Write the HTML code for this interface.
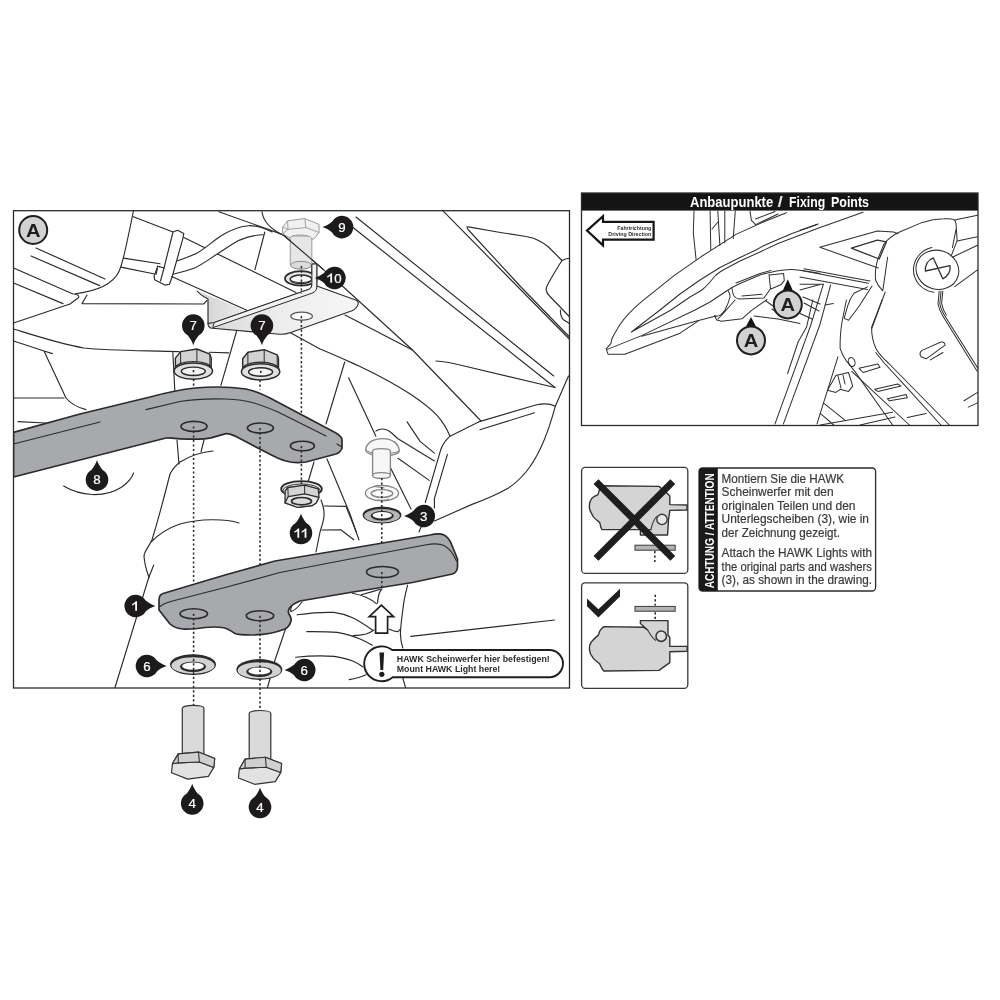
<!DOCTYPE html>
<html>
<head>
<meta charset="utf-8">
<title>HAWK mounting instructions</title>
<style>
html,body{margin:0;padding:0;background:#fff;}
body{width:1000px;height:1000px;overflow:hidden;font-family:"Liberation Sans",sans-serif;}
svg{display:block;position:absolute;left:0;top:0;will-change:transform;}
text{font-family:"Liberation Sans",sans-serif;}
.ln{fill:none;stroke:#2b2b2b;stroke-width:1.15;stroke-linecap:round;stroke-linejoin:round;}
.gh{fill:#f3f3f3;stroke:#808080;stroke-width:1.15;stroke-linejoin:round;}
.dot{fill:none;stroke:#2b2b2b;stroke-width:1.55;stroke-dasharray:2.2 2.3;}
.bar{fill:#a8a9ac;stroke:#2b2b2b;stroke-width:1.7;stroke-linejoin:round;}
.hole{fill:#a8a9ac;stroke:#2b2b2b;stroke-width:1.6;}
.num{fill:#fff;font-size:13.3px;text-anchor:middle;stroke:#fff;stroke-width:0.22px;}
.bub{fill:#1d1a1b;}
</style>
</head>
<body>
<svg width="1000" height="1000" viewBox="0 0 1000 1000">
<defs>
<clipPath id="cpMain"><rect x="13.5" y="210.7" width="556" height="477.3"/></clipPath>
<clipPath id="cpRight"><rect x="581.5" y="210.6" width="396.5" height="215"/></clipPath>
</defs>
<rect x="0" y="0" width="1000" height="1000" fill="#fff"/>

<!-- ================= MAIN FRAME ================= -->
<g clip-path="url(#cpMain)">
<g id="bg" class="ln">
<!-- top-left -->
<path d="M36,248 L105,279 M31,256 L99.6,285.6 M13.6,268 L73,294 M13.6,283 L63,303.6"/>
<path d="M133.4,211 C130,228 126,247 123.5,257.2 C122,264 120.5,268 119,271.6 C114,282 100,291 74,294 C78,294.5 80,296 78,298 L70,304 L13.6,323"/>
<path d="M87,295 L82,303.6 L203.6,304 L207,300.4"/>
<path d="M13.6,329 C30,334 60,344 84,348 C110,351 150,350.5 179,351.6 M172.8,351.6 L174.8,390.6"/>
<path d="M13.6,341 L44,351 L52.4,353.6 M44,351 L66,398 C70,403 78,407.5 86,409.6"/>
<path d="M13.6,398 L64,398 M18,421.6 L46,423"/>
<!-- hose + cable tie -->
<path d="M133.4,216.7 L173,232 M183.8,237.4 L296,292.5"/>
<path d="M123.5,258.1 L160,263.8 M120.8,267.1 L155.9,274.3"/>
<path d="M177.5,260.8 C185,258 190,256.5 196.4,253.6 C206,248 213,241 221.6,235.6 C230,230 240,226.5 248.6,225.7 C257,225.5 265,228.5 272,232 L263,234.7 C256,235 248,236.5 239.6,240.1 C232,244 226,248.5 218,253.6 C210,258.5 204,263.5 194.6,268 C188,270.5 182,272 173,274.3 Z" fill="#fff" stroke="none"/>
<path d="M177.5,260.8 C185,258 190,256.5 196.4,253.6 C206,248 213,241 221.6,235.6 C230,230 240,226.5 248.6,225.7 C257,225.5 265,228.5 272,232"/>
<path d="M173,274.3 C182,272 188,270.5 194.6,268 C204,263.5 210,258.5 218,253.6 C226,248.5 232,244 239.6,240.1 C248,236.5 256,235 263,234.7"/>
<path d="M173,232 L177.5,230.2 L183.8,233.4 L182.9,238.3 L172.1,277 L169.4,284.2 L164.9,285.1 L154.6,279.7 L154.1,276.1 L157.7,266.2 L164,268 Z" fill="#fff"/>
<path d="M164,268 L160.5,281 M157.4,268.9 L156,274.3 M157.7,266.2 L159.8,266.8"/>
<path d="M171.6,276.6 L246.8,310.3"/>
<!-- top middle -->
<path d="M218.8,211.8 L274.6,231.6 L283.6,235.2"/>
<path d="M262,211.8 C263,220 270,229 283.6,235.2 L323.2,269.4 L344,287.5 L412.5,350 L481,421"/>
<path d="M264.8,232 L254.9,269.8"/>
<path d="M236.5,331.5 L220.9,385.4 M209.2,352.3 L228.7,352.9"/>
<!-- right region -->
<path d="M356,217 L553.75,376 M353,227.5 L555,387.5"/>
<path d="M436,361 C445,361.5 450,362.5 460,365 L555,387.5"/>
<path d="M442.75,210.7 L569.5,339.25"/>
<path d="M569.5,337 L520,286 L468.25,229.75 C466.5,227.5 466.5,226.5 468.5,226.9 L497.5,232 L526,236.5 C531,237.3 535,238.6 538,240.25 C542,242.2 545.5,244.5 548.5,247 L562,260.5"/>
<path d="M569.5,258.25 C566,258.5 564,259.3 562,260.5 C557,268 552.5,276 548.5,283 C546.5,286.5 545.8,288.5 546.25,290.5 C546.8,293 548,295 550,296.5 L569.5,316.75 M560.5,310 C560.3,313 560.6,314.5 561.25,316 C562,318 562.5,319 563.5,319.75 L569.5,323.5"/>
<path d="M345,315 L412.5,350"/>
<path d="M290,332.5 L320,349 C335,355 350,362 359,366 C380,376 398,386 411,394.6 C422,402 431,409 437,415.4 C443,422 447,429 450,436.2"/>
<path d="M344.7,362 L326,424"/>
<path d="M348.6,377.7 L375.9,436.2"/>
<path d="M375.9,431 C380,428.5 385,428.5 389,431 C393,433.5 395,436.5 398,438.8 L434.4,460.9"/>
<path d="M407.1,421.9 L420.1,441.4 L434.4,453.1"/>
<path d="M398,458.3 L429.2,480.4"/>
<path d="M389,464.8 L411,509"/>
<path d="M450,436.2 L478.6,421.9 L535.8,405 C545,403 551,404 555.3,406.3 L568.5,376"/>
<path d="M479.9,429.7 L534.5,412.8"/>
<path d="M449.5,436.7 C445,441 442.5,445 440.9,449.2 L425.3,502.5 M447.4,454.4 L434.4,498.6 L434.4,508"/>
<path d="M555.3,406.3 C551,422 546,437 540.4,448.6 C536,458 531,466 526,472 C520,479 514,484.5 508,488.2 C497,494.5 485,499.5 472,504.4 L434.4,521"/>
<path d="M419,532 L421,527 L425,526"/>
<!-- lower-left region -->
<path d="M177,440 L179,464 M204,440 L201,452 M314,462 L308,482"/>
<path d="M213,451 C200,452 190,456 180,462 C175,466 172,470 170,474 C166,490 158,520 152,540 C148,548 144,552 144,556 C144.5,565 147,572 149,577.5"/>
<path d="M153.75,565 L148.75,577.5 L115,687.5"/>
<path d="M239,523 C225,518.5 200,518.5 180,524 C168,528 158,535 151,542"/>
<path d="M327,459 L350,514 L359,540"/>
<path d="M321,500 C323,505 324.5,510 324,516 C323.5,522 321.5,527 320,532 L316,552"/>
<path d="M324,506 L346,506.4 L356.4,532.4 M322,530 L340.8,529.8 L353.8,539.7"/>
<path d="M63.6,486 C72,491 82,494 92,494.5 C104,495 114,492 121,487.5 C127,483.5 131.5,479 133.6,473"/>
<!-- below bar 1 -->
<path d="M286,627.5 L275,660 L267.5,687.5"/>
<path d="M292.4,603.6 C291,607 290.5,610 290.8,611.6 C294,611 299,606 302,602"/>
<path d="M297.2,614.8 C310,613 322,612 334,612.4 C342,613.5 348,615.5 353.2,618 C360,621.5 366,625.5 372.4,630"/>
<path d="M306.8,631.6 C318,631.5 328,631.5 337.2,632.4 C346,634 353,636 359.6,638.8 C364,640.8 368,642.8 372.4,645.2"/>
<path d="M353.2,635.6 C358,635.5 362,635 366,634 C369,633 372,631.5 374,630"/>
<path d="M295.6,657.2 C308,656 322,655.5 334,656.4 C341,657.2 347,659 353.2,661.2 C357,662.8 360,664.5 362.8,666.8"/>
<path d="M349.2,679.6 C353,679 356,678.2 359.6,677.2 C362,676.5 364,675.8 366,674.8"/>
<path d="M352.4,593.2 C357,594 362,595.5 366,597.2 C370,599 373.5,601 376.4,603.6 M361.2,594.8 L372.4,591.6 L380.4,589.2"/>
<path d="M382,589 C379.5,591 378,596 377.5,603"/>
<path d="M407.6,585.2 C405,595 403.5,603 402.8,610 C401.5,620 400.5,627 400.4,634 C400.5,640 401.5,644 402.8,648 M402.8,678 L406,689.2"/>
<path d="M389.2,629.2 C393,631 396,631.8 398,631.6 L400.4,629.2 M410.8,636.4 L554.5,620"/>
</g>

<g id="bracket">
<defs>
<linearGradient id="gWall" x1="0" y1="0" x2="1" y2="0"><stop offset="0" stop-color="#d0d0d0"/><stop offset="1" stop-color="#ececec"/></linearGradient>
<linearGradient id="gPlate" x1="0" y1="0" x2="1" y2="0"><stop offset="0" stop-color="#d8d8d8"/><stop offset="0.5" stop-color="#eeeeee"/><stop offset="1" stop-color="#f6f6f6"/></linearGradient>
</defs>
<!-- wall -->
<path d="M197.2,291 C200,295 204,297 208,299 L208,323.4 L212.5,328 L214.3,322.5 L246,310.5 Z" fill="url(#gWall)" stroke="none"/>
<!-- plate -->
<path d="M208,323.4 C208,326 210,328 212.5,328.3 L280,334.2 C284,334.4 287,333.8 290.8,332.4 L352,310.8 C355,309.5 357.5,306.5 358.3,303.6 C358.5,301.5 357.5,300.6 355.6,300 L316.8,286 L316.8,264 L311.9,264 L311.9,283.8 C311.9,286.5 311,288.3 309.2,289.2 L214.3,322.5 Z" fill="url(#gPlate)" stroke="#2b2b2b" stroke-width="1.1" stroke-linejoin="round"/>
<path class="ln" d="M197.2,291 C200,295 204,297 208,299 L208,323.4"/>
<ellipse cx="301.6" cy="316.2" rx="10.8" ry="4" fill="#fff" stroke="#555" stroke-width="1.2"/>
<!-- ghost bolt 9 -->
<path d="M290.25,236 L290.25,264 C290.25,270.5 311.85,270.5 311.85,264 L311.85,236 Z" fill="#e6e6e6" stroke="#9a9a9a" stroke-width="1"/>
<ellipse cx="301.05" cy="265.2" rx="10.4" ry="3.9" fill="#dcdcdc" stroke="#8a8a8a" stroke-width="1"/>
<path d="M282.6,227.1 L287.55,220.8 L304.65,218.55 L319.05,224.4 L319.05,232.5 L314.1,238.8 L311.85,239.2 C311.85,233.8 290.25,233.8 290.25,238 L282.6,233.85 Z" fill="#f1f1f1" stroke="#9a9a9a" stroke-width="1" stroke-linejoin="round"/>
<path d="M282.6,227.1 L288,229.35 L306,227.55 L319.05,232.5 M287.55,220.8 L288,229.35 M304.65,218.55 L306,227.55 M288,229.35 L282.6,233.85" fill="none" stroke="#9a9a9a" stroke-width="0.9"/>
<path class="ln" d="M283.6,235.2 L323.2,269.4"/>
<!-- washer 10 -->
<ellipse cx="301" cy="278.4" rx="16" ry="7.2" fill="#e4e4e4" stroke="#2b2b2b" stroke-width="1.8"/>
<ellipse cx="301" cy="279.3" rx="10.8" ry="4.3" fill="#f6f6f6" stroke="#2b2b2b" stroke-width="1.5"/>
<path d="M291.5,280.5 C294,283.2 308,283.2 310.5,280.5" fill="none" stroke="#2b2b2b" stroke-width="0.9"/>
<!-- bracket end strip drawn over washer -->
<path d="M311.9,264 L311.9,283.8 C311.9,286.5 311,288.3 309.2,289.2 L214.3,322.5 L212.8,327.6 L312,293.2 C315,292 316.8,290 316.8,287 L316.8,264 Z" fill="#f2f2f2" stroke="#2b2b2b" stroke-width="1" stroke-linejoin="round"/>
</g>

<g id="bar8">
<path class="bar" d="M13.5,432.4 L80,414 L150,397 C165,393 180,389.6 195,388 C212,386.5 232,387 246,389 C256,391 263,394.5 270,398 L336,433 C340,435.5 342,437 342,440 L342,448 C341,451 339,453 336,454 L306,462 C298,463 291,462.5 286,461 C280,459.5 275,457 270,454.3 L236,436.6 C232,434.5 229,433.3 226,433.6 L211,437.9 C204,439.6 192,439.4 180,438.8 C174,438.4 170,437.5 166,438 L13.5,477 Z"/>
<path class="ln" d="M13.5,444 L100,422 M146,409.6 L180,401.5 C195,399 210,398.5 226,399 C238,399.5 247,401 254,403 C263,406 270,408.5 278,412 L326,436 M337,444 L341,446.5"/>
<ellipse class="hole" cx="194" cy="426.4" rx="13" ry="5"/>
<ellipse class="hole" cx="260.4" cy="428" rx="13" ry="5"/>
<ellipse class="hole" cx="302.4" cy="446" rx="12" ry="4.8"/>
</g>

<g id="bar1">
<path class="bar" d="M159,610 L159,600 C159,596 160,594.5 163,593.5 L225,575 L275,561 L350,548.5 L430,535 C436,533.5 441,533.5 444,535 C447,536.5 449,539 451,543 L457.5,559 L457.5,567.5 C457,571 455.5,573 452.5,574 L412.5,582.5 L350,592.5 L300,601 C295,603 292,605 291,606.5 C288,609 287.5,611 289,614 C291,617 291.5,619 291,621 C290,625 288,627.5 285,629 C275,633 262,635 250,635 C243,635 238,634.5 235,633.5 C230,630 227,628 222,627.5 C215,626.5 210,627 205,627.5 C195,629 188,629.5 182.5,629 C176,628 172,626 170,624 Z"/>
<path class="ln" d="M160,606.5 C163,604 167,602.5 172.5,601 L225,587.5 L280,572.5 L350,559 L425,545 C433,543.5 440,543.5 444,545.5 C449,548 453,553 456.5,561"/>
<ellipse class="hole" cx="193.75" cy="613.75" rx="13.75" ry="5"/>
<ellipse class="hole" cx="260" cy="615.75" rx="13.75" ry="5"/>
<ellipse class="hole" cx="382.5" cy="572" rx="16" ry="5.5"/>
</g>

<g id="parts">
<defs>
<g id="washer6">
<ellipse cx="0" cy="0" rx="23" ry="10.4" fill="#2b2b2b"/>
<ellipse cx="0" cy="0.9" rx="21.6" ry="8.2" fill="#d2d2d2"/>
<ellipse cx="0" cy="2.2" rx="13" ry="5.2" fill="#2b2b2b"/>
<ellipse cx="0" cy="1.5" rx="11" ry="3.6" fill="#fff"/>
</g>
<g id="nut7">
<!-- origin = flange centre -->
<path d="M-17.9,-13 L-12.7,-19.5 L3.6,-22.1 L16.6,-16.9 L17.9,-13 L17.9,-1 L-17.9,-1 Z" fill="#d2d2d2" stroke="#2b2b2b" stroke-width="1.4" stroke-linejoin="round"/>
<path d="M-12.7,-19.5 L-12.7,-5 M3.6,-22.1 L3.6,-7 M16.6,-16.9 L16.6,-4" fill="none" stroke="#2b2b2b" stroke-width="1"/>
<ellipse cx="0" cy="-2.2" rx="18.4" ry="7.4" fill="#d2d2d2" stroke="#2b2b2b" stroke-width="1.2"/>
<ellipse cx="0" cy="0" rx="19.2" ry="8.1" fill="#e0e0e0" stroke="#2b2b2b" stroke-width="1.5"/>
<ellipse cx="0" cy="0.2" rx="12" ry="4.2" fill="#f2f2f2" stroke="#2b2b2b" stroke-width="1.4"/>
<path d="M0.2,-1 L0.2,4" class="dot"/>
</g>
</defs>
<!-- washers 6 -->
<use href="#washer6" transform="translate(193,664.6)"/>
<use href="#washer6" transform="translate(259.3,669.5)"/>
<!-- nuts 7 -->
<use href="#nut7" transform="translate(193.3,371.1)"/>
<use href="#nut7" transform="translate(260.6,371.8)"/>
<!-- nut 11 -->
<g>
<ellipse cx="301.5" cy="489" rx="20.3" ry="7.9" fill="#e6e6e6" stroke="#2b2b2b" stroke-width="1.9"/>
<ellipse cx="301.5" cy="490.6" rx="18.6" ry="6.6" fill="#f0f0f0" stroke="#2b2b2b" stroke-width="0.9"/>
<path d="M285.05,491 L287.85,487.5 L304.65,485.05 L318.3,488.9 L319,497.3 L316.2,502.9 L312,505.7 L298,507.45 L285.05,502.9 Z" fill="#d4d4d4" stroke="#2b2b2b" stroke-width="1.3" stroke-linejoin="round"/>
<path d="M285.05,502.9 L288.2,496.6 L304.65,493.8 L319,497.3 L316.2,502.9 L312,505.7 L298,507.45 Z" fill="#e6e6e6" stroke="#2b2b2b" stroke-width="1.2" stroke-linejoin="round"/>
<path d="M287.85,487.5 L288.2,496.6 M304.65,485.05 L304.65,493.8" fill="none" stroke="#2b2b2b" stroke-width="1"/>
<ellipse cx="301.5" cy="501.2" rx="10" ry="3.7" fill="#dcdcdc" stroke="#2b2b2b" stroke-width="1.7"/>
</g>
<!-- ghost button-head screw -->
<g fill="#f7f7f7" stroke="#868686" stroke-width="1.35" stroke-linejoin="round">
<path d="M365.7,449.4 C366.5,443 373,438.6 382.5,438.6 C392,438.6 398.6,443.5 399.3,450.2 C399.6,453.5 392,456.3 382.5,456.3 C373,456.3 365.3,453 365.7,449.4 Z"/>
<path d="M365.7,449.4 C367,452 373,453.6 382.5,453.6 C392,453.6 398,452.4 399.3,450.2" fill="none" stroke-width="1"/>
<path d="M372.6,451 C372.6,447.8 390.4,447.8 390.4,451 L390.4,475.6 C390.4,479.4 372.6,479.4 372.6,475.6 Z"/>
<path d="M372.6,475.2 C372.6,471.8 390.4,471.8 390.4,475.2" fill="none" stroke-width="1.1"/>
</g>
<!-- ghost lock washer -->
<g fill="#f9f9f9" stroke="#868686" stroke-width="1.35">
<ellipse cx="382" cy="493.2" rx="16.6" ry="7.7"/>
<ellipse cx="382" cy="493.5" rx="10.8" ry="3.9" fill="#fff"/>
<path d="M375,486.6 L384.5,488 M377.5,499.8 C381,500.6 386,500.2 389,499" fill="none" stroke-width="1"/>
</g>
<!-- washer 3 -->
<g>
<ellipse cx="382" cy="515" rx="19.4" ry="8.6" fill="#2b2b2b"/>
<ellipse cx="382" cy="515.7" rx="17.9" ry="6.7" fill="#b7b7b7"/>
<ellipse cx="382.2" cy="515.8" rx="11.6" ry="4.8" fill="#2b2b2b"/>
<ellipse cx="382.2" cy="515.3" rx="9.7" ry="3.2" fill="#fff"/>
</g>
<!-- arrow -->
<path d="M381.4,605.2 L393.6,616.6 L387.6,616.6 L387.6,633.1 L375.6,633.1 L375.6,616.6 L369.2,616.6 Z" fill="#fff" stroke="#1e1e1e" stroke-width="1.7" stroke-linejoin="miter"/>
</g>

</g>
<g id="dots">
<path class="dot" d="M193.6,379 L193.6,387 M193.6,426.4 L193.6,584.5 M193.6,613.75 L193.6,705"/>
<path class="dot" d="M260,380 L260,389.5 M260,428 L260,565.5 M260,615.75 L260,709.5"/>
<path class="dot" d="M301.4,266 L301.4,293.5 M301.4,316 L301.4,414.5 M301.4,446 L301.4,484"/>
<path class="dot" d="M381.8,478 L381.8,543 M381.8,572 L381.8,589"/>
</g>

<g id="bolts4">
<defs>
<g id="bolt4">
<!-- origin = top-centre of shaft -->
<path d="M-10.8,3 C-10.8,-1 10.8,-1 10.8,3 L10.8,50 L-10.8,50 Z" fill="#dadada" stroke="#333" stroke-width="1.2" stroke-linejoin="round"/>
<path d="M-14.9,48.6 L5.4,46.8 L21.6,53.1 L20.7,62.1 L15.3,71.1 L-5.4,73.8 L-21.6,67.5 L-20.7,58.5 Z" fill="#e2e2e2" stroke="#333" stroke-width="1.2" stroke-linejoin="round"/>
<path d="M-20.7,58.5 L-14.9,57.6 L-14.9,48.6 M-14.9,57.6 L6.3,56.7 L5.4,46.8 M6.3,56.7 L20.7,62.1" fill="none" stroke="#333" stroke-width="1.1" stroke-linejoin="round"/>
<path d="M-14.9,48.6 L5.4,46.8 L21.6,53.1 L20.7,62.1 L6.3,56.7 L-14.9,57.6 L-20.7,58.5 Z" fill="#d0d0d0" stroke="#333" stroke-width="1.1" stroke-linejoin="round"/>
<path d="M-14.9,48.6 L-14.9,57.6 M5.4,46.8 L6.3,56.7" fill="none" stroke="#333" stroke-width="1.1"/>
</g>
</defs>
<use href="#bolt4" transform="translate(193.1,705.3)"/>
<use href="#bolt4" transform="translate(260,710.5)"/>
</g>

<g id="bubbles">
<defs>
<!-- bubble with pointer pointing down (tip at 0,19.6) -->
<path id="bubD" d="M0,19.6 C-1,16.5 -2.8,13 -5.4,9.9 A11.3,11.3 0 1 1 5.4,9.9 C2.8,13 1,16.5 0,19.6 Z"/>
<path id="one" d="M0,0 L0,-9.4 L-1.3,-9.4 C-1.9,-8.3 -3.2,-7.3 -4.8,-6.6 L-4.8,-5 C-3.7,-5.4 -2.6,-6.1 -1.8,-6.9 L-1.8,0 Z" fill="#fff"/>
</defs>
<use href="#bubD" class="bub" transform="translate(193.3,325.6)"/>
<text class="num" x="193.3" y="330.3">7</text>
<use href="#bubD" class="bub" transform="translate(261.9,325.6)"/>
<text class="num" x="261.9" y="330.3">7</text>
<use href="#bubD" class="bub" transform="translate(97,479.6) rotate(180)"/>
<text class="num" x="97" y="484.3">8</text>
<use href="#bubD" class="bub" transform="translate(301,533) rotate(180)"/>
<use href="#one" transform="translate(299.2,537.8)"/>
<use href="#one" transform="translate(306.4,537.8)"/>
<use href="#bubD" class="bub" transform="translate(342,227.1) rotate(90)"/>
<text class="num" x="342" y="231.8">9</text>
<use href="#bubD" class="bub" transform="translate(334.4,278) rotate(90)"/>
<use href="#one" transform="translate(332.1,282.7)"/>
<text class="num" x="337.9" y="282.7">0</text>
<use href="#bubD" class="bub" transform="translate(423.75,516) rotate(90)"/>
<text class="num" x="423.75" y="520.7">3</text>
<use href="#bubD" class="bub" transform="translate(135.75,606) rotate(-90)"/>
<use href="#one" transform="translate(137,610.7)"/>
<use href="#bubD" class="bub" transform="translate(147,666) rotate(-90)"/>
<text class="num" x="147" y="670.7">6</text>
<use href="#bubD" class="bub" transform="translate(304.2,670) rotate(90)"/>
<text class="num" x="304.2" y="674.7">6</text>
<use href="#bubD" class="bub" transform="translate(192.2,803.4) rotate(180)"/>
<text class="num" x="192.2" y="808.1">4</text>
<use href="#bubD" class="bub" transform="translate(260,807) rotate(180)"/>
<text class="num" x="260" y="811.7">4</text>
<!-- A label in main frame -->
<circle cx="33.2" cy="230" r="14" fill="#d2d2d2" stroke="#1e1e1e" stroke-width="2"/>
<text transform="translate(33.2,236.60000000000002) scale(1.12,1)" x="0" y="0" font-size="18" font-weight="bold" text-anchor="middle" fill="#1e1e1e">A</text>
</g>

<g id="pill">
<path d="M392.2,650 L549.4,650 A13.6,13.6 0 0 1 549.4,677.2 L392.7,677.2 A17.4,17.4 0 1 1 392.2,650 Z" fill="#fff" stroke="#1e1e1e" stroke-width="1.9"/>
<path d="M379.5,652.6 L384.1,652.6 L383.2,670 L380.4,670 Z" fill="#1e1e1e"/>
<circle cx="381.8" cy="674.3" r="2.6" fill="#1e1e1e"/>
<text x="396.8" y="661.8" font-size="8.8" font-weight="bold" fill="#2b2b2b" textLength="153" lengthAdjust="spacingAndGlyphs">HAWK Scheinwerfer hier befestigen!</text>
<text x="396.8" y="672.4" font-size="8.8" font-weight="bold" fill="#2b2b2b" textLength="103.5" lengthAdjust="spacingAndGlyphs">Mount HAWK Light here!</text>
</g>

<rect x="13.5" y="210.7" width="556" height="477.3" fill="none" stroke="#2b2b2b" stroke-width="1.3"/>

<!-- ================= RIGHT PANEL ================= -->
<g id="right">
<rect x="581.5" y="193" width="396.5" height="232.5" fill="#fff"/>
<g clip-path="url(#cpRight)" class="ln" style="stroke-width:1.02;stroke:#303030">
<!-- beak -->
<path d="M786.4,212.7 L764,221.8 L736,234.4 L701,256.8 L674,275.6 L650,294.8 C642,301 635,307 629.6,312.8 C624,318.5 620,324 617.6,328.4 C615,332.5 613,336 611.6,339.8 L611,343.4 L606.2,348.8 L608,354.2 L624.8,354.2 L680,333.2 L698,321.2"/>
<path d="M817.2,224.6 L792,233.5 L764,245.5 L756,250 L740,257.5 L720,267.5 L700,280 L680,294 L660,310 L631.4,332 L671,310 L690,297 C696,293.5 699,292 702,290 C705,287.5 707.5,285 710,282 C712,279.5 714,277 716,275 C719,272.5 722,270.5 725,269 L740,261 L760,252 L778,243.5 L820,227.4 L863,212.2"/>
<path d="M607.4,349.4 L641.6,335.6 L695,310 L710,302 L725,292 L732,287.5 L740,283.5 L760,275 C765,273.3 768,272.7 771,272.2 C780,270 786,269.3 792,269.4 C803,270 812,272 820,273.6"/>
<path d="M641.6,336.2 L695.6,321.2 L716,316"/>
<path d="M736,283 L760,273.5 L771,270.5 M800,230.2 L818,223.9"/>
<!-- fork tubes -->
<path d="M694,211 L693.3,233 L696.1,259.6 M710.1,211 L710.8,249.8 M717.8,211 L719.9,245.6 M724.8,211 L724.8,242.8 M735.3,211 L733.2,238.6"/>
<path d="M712,229 L718,222 M750,211 L751.4,220.4 L755.6,224.6 L778,214 M755.6,219 L775,211.5"/>
<!-- under beak -->
<path d="M732,288.5 C732.5,292 733,294.5 734,296 C735.5,298 737,298.8 739,299 L764,298 L770.5,288.8 L769,274.5"/>
<path d="M742,296 L762,294.2"/>
<path d="M728,290.5 C729.5,293 730.3,295 730,297 C729,301.5 727,306 725,310 C722,314.5 718.5,317.5 714.4,315.8 L716.8,320 L721.6,321.2 L742,318.8 L751.6,310.4 L767,299.5 M735,300 L722.8,314 L718,319"/>
<path d="M769.6,275 L783.6,273.6 L784.3,280.6 L780.8,284.8 L771,289"/>
<path d="M766,301 L773,306 L780,304 M772,309 L779,314 L790,318 M754,316 L778,319 L800,323.5 M800,290 L820,284.5 M803,297 L820,304 M804,303 L819,311 M800,313.5 L812,319"/>
<!-- frame rails -->
<path d="M802.7,270.7 L868.4,283.3 M804,268.8 L870,281 M800,277 L867.5,289.6 M800,284.2 L823.4,284.2"/>
<path d="M823.4,284.2 L810.8,325 L775,423.9 M830.6,285.1 L819.8,325 L783.4,423.9"/>
<path d="M825.2,304.9 L833.3,303.6 M812.8,300 L806.5,327.3 L798.1,342 L787.6,373.5"/>
<!-- triangle panel -->
<path d="M819.8,247.3 L877.4,231.1 L893.6,232 L898,233.8 M819.8,247.3 L878.3,268"/>
<path d="M851.3,248.2 L877.4,240.1 L886.4,241.9 L879.2,259 Z" stroke-width="1.3"/>
<!-- tank -->
<path d="M878,258.4 L884,244 C888,239 893,235 899.6,232 L922.4,222.4 C930,220 938,219 944,218.8 C949,218.5 952,218.7 953.6,219.4 C955,220.5 955.8,222 956,223.6 L957.2,240.4 L951.2,256"/>
<path d="M954.8,220 L977.5,215.2 M957.2,241 L977.5,236.8 M952.4,257.2 L977.5,245.2 M954.8,286.6 L977.5,269.8 M956,229.6 L952.4,247.6"/>
<path d="M887.6,257.2 L882.8,290.8 C879.5,287.5 877,284 875.6,280 C874.8,273 876,265 878,258.4 M885.2,292 L872,328"/>
<!-- fuel cap -->
<ellipse cx="937.4" cy="269.8" rx="21.6" ry="19.4" transform="rotate(18 937.4 269.8)"/>
<path d="M932,247.5 C922,249.5 914.5,258 913.5,268 C912.8,280 921,290.5 934,292.3"/>
<path d="M925.4,271 A12.6,12.6 0 0 1 933.2,257.8 L942.8,278.8 A12.4,12.4 0 0 0 950,265.6 Z" stroke-width="1.3"/>
<path d="M939.2,291 L938,304 C939,309 940.6,312.5 942.8,316 L977,371 M941,291.2 L939.8,304 C940.8,309 942.4,312.5 944.6,315.6 L978,368.4 M942.8,291.2 L941.6,303.6 C942.6,308.5 944.2,312 946.4,315"/>
<!-- seat/side panel -->
<path d="M867.5,286.9 L854,293.2 C851,297 849,301 847.7,305.8 L844.1,318.4 L848.6,320.2 L859.4,305.8 L872,286"/>
<path d="M846.4,300 L842.2,321 C840.5,330 840,340 840.1,348.3 C841.5,353 843.5,357 846.4,360.9 L854.8,371.4 L892.6,425"/>
<path d="M882.1,300 L871.6,327.3 C871.5,335 873,342 875.8,348.3 C879,354 883,358.5 888.4,363 L949.3,425"/>
<path d="M875.8,352.5 L884.2,363 L909.4,390.3 L940.9,425 M838,356.7 L817,423.9 M851.7,371.4 L909.4,425"/>
<ellipse cx="851.7" cy="362" rx="3.2" ry="4.6" transform="rotate(-20 851.7 362)"/>
<path d="M859,368.3 L877.9,364 L880,367.2 L863.2,372.5 Z M874.7,389.3 L897.8,384 L901,386.1 L877.9,391.4 Z M887.3,398.7 L906.2,394.5 L907.3,397.7 L889.4,400.8 Z M907.3,417.6 L926.2,413.4"/>
<path d="M827.5,390.3 L835.9,375.6 L848.5,372.5 L852.7,386.1 L848.5,391.4 L840.1,389.3 L835.9,392.4 Z M838,376 L841,388 M843,375 L845,384"/>
<path d="M820.2,425 L892.6,412.3 M820.2,413.4 L833.8,425 M823.3,402.9 L844.3,419.7 M860,425 L895,417"/>
<path d="M922,350.4 L940.9,342 C943.5,341.5 945,343 945.1,345.2 L926.2,358.8 L921,356.7 C919.5,354.5 920,352 922,350.4 Z M930.4,359.9 L943,352.5" />
<path d="M964,400.8 L977.6,392.4 M968.2,407.1 L977.6,402.9"/>
</g>
<!-- header -->
<rect x="581.5" y="193" width="396.5" height="17.6" fill="#141414"/>
<g font-size="14.2" font-weight="bold" fill="#fff">
<text x="690" y="206.6" textLength="83.2" lengthAdjust="spacingAndGlyphs">Anbaupunkte</text>
<text x="777.6" y="206.6" textLength="5.4" lengthAdjust="spacingAndGlyphs" fill="#ddd">/</text>
<text x="789" y="206.6" textLength="36.2" lengthAdjust="spacingAndGlyphs">Fixing</text>
<text x="831" y="206.6" textLength="38" lengthAdjust="spacingAndGlyphs">Points</text>
</g>
<rect x="581.5" y="193" width="396.5" height="232.5" fill="none" stroke="#2b2b2b" stroke-width="1.3"/>
<!-- direction arrow -->
<path d="M587,230.6 L603,216.2 L603,221.8 L653.6,221.8 L653.6,239.6 L603,239.6 L603,245.4 Z" fill="#fff" stroke="#141414" stroke-width="2.2" stroke-linejoin="miter"/>
<text x="651.3" y="229.6" font-size="5.6" font-weight="bold" fill="#2b2b2b" text-anchor="end" textLength="34" lengthAdjust="spacingAndGlyphs">Fahrtrichtung</text>
<text x="651.3" y="236.4" font-size="5.6" font-weight="bold" fill="#2b2b2b" text-anchor="end" textLength="43" lengthAdjust="spacingAndGlyphs">Driving Direction</text>
<!-- A markers -->
<path d="M751,317 L756,326.5 L746,326.5 Z" fill="#141414"/>
<circle cx="751" cy="340.4" r="14" fill="#d2d2d2" stroke="#1e1e1e" stroke-width="2"/>
<text transform="translate(751.0,347.0) scale(1.12,1)" x="0" y="0" font-size="18" font-weight="bold" text-anchor="middle" fill="#1e1e1e">A</text>
<path d="M787.8,279.2 L793,291 L782.6,291 Z" fill="#141414"/>
<circle cx="787.8" cy="304.4" r="14" fill="#d2d2d2" stroke="#1e1e1e" stroke-width="2"/>
<text transform="translate(787.8,311.0) scale(1.12,1)" x="0" y="0" font-size="18" font-weight="bold" text-anchor="middle" fill="#1e1e1e">A</text>
</g>


<!-- ================= SMALL BOXES ================= -->
<g>
<rect x="581.6" y="467.4" width="106.2" height="106" rx="3.5" fill="#fff" stroke="#3a3a3a" stroke-width="1.3"/>
<rect x="581.6" y="582.8" width="106.2" height="105.5" rx="3.5" fill="#fff" stroke="#3a3a3a" stroke-width="1.3"/>
<!-- box1 lamp -->
<path d="M600.8,485.8 L659,486.4 L662,489 L667.4,493.6 L669.8,496 L669.8,504.6 L687,505 L687,510 L669.8,510.4 L668.5,520 L667.6,535 L640.4,535 L640.4,529.6 L602,529.6 C600,527 600.5,523.5 599.6,522.4 C598,521 597.5,521 596.6,520 C593.5,518 592,515 591.2,512.8 C589.5,510 589.2,507.5 589.4,505.6 C589.4,502.5 590.2,500.5 591.8,498.4 C593.5,496.5 595.5,495.5 597.8,494.8 C599,492 599.5,488.5 600.8,485.8 Z" fill="#d4d4d4" stroke="#333" stroke-width="1.4" stroke-linejoin="round"/>
<path d="M640.4,529.6 L651,529.6 C652,524 653.5,520 657,516" fill="none" stroke="#3a3a3a" stroke-width="1.1"/>
<circle cx="662" cy="519.4" r="5.2" fill="#e8e8e8" stroke="#3a3a3a" stroke-width="1.4"/>
<rect x="635" y="545.2" width="40.2" height="5" fill="#b4b4b4" stroke="#3a3a3a" stroke-width="1"/>
<path d="M654.8,551 L654.8,562" class="dot"/>
<path d="M596,481.6 L672.8,558.4 M672.8,481.6 L596,558.4" stroke="#1e1e1e" stroke-width="7" fill="none"/>
<!-- box2 -->
<path d="M587,598.4 L598.4,609.2 L620,588.8 L620,596.6 L598.4,617.6 L587,606.2 Z" fill="#1e1e1e"/>
<rect x="635" y="606.4" width="40.2" height="4.8" fill="#b4b4b4" stroke="#3a3a3a" stroke-width="1"/>
<path d="M655.2,594.8 L655.2,605.5 M655.2,612.2 L655.2,620.4" class="dot"/>
<path d="M603.8,626.6 L643.4,627.2 L647.6,630 L640.4,623.5 L640.4,620.6 L668,620.6 L668,635 L669.8,637.4 L669.8,646.4 L687.2,646.4 L687.2,651.2 L669.8,651.8 L669.8,662.6 L659,670.4 L603.8,671 C601.5,668.5 600.5,665.5 599.6,663.8 C597,661.5 594.5,660 593,657.8 C590.5,655 589.6,652 589.4,649.4 C589.2,646.5 589.8,644 591.2,642.2 C593.5,639 596.5,637 598.4,635 C599,633.5 599.3,632.5 599.6,631.4 C600.5,629.5 602,628 603.8,626.6 Z" fill="#d4d4d4" stroke="#333" stroke-width="1.4" stroke-linejoin="round"/>
<path d="M647.6,630 C650,634 652,638 656,640.5" fill="none" stroke="#3a3a3a" stroke-width="1.1"/>
<circle cx="661.2" cy="636.2" r="5.2" fill="#e0e0e0" stroke="#3a3a3a" stroke-width="1.6"/>
</g>


<!-- ================= TEXT BOX ================= -->
<g>
<rect x="699" y="468" width="176.6" height="123" rx="3.5" fill="#fff" stroke="#2b2b2b" stroke-width="1.3"/>
<path d="M702.5,468 L717.8,468 L717.8,591 L702.5,591 Q699,591 699,587.5 L699,471.5 Q699,468 702.5,468 Z" fill="#1a1a1a"/>
<text transform="translate(713.6,588.3) rotate(-90)" font-size="13" font-weight="bold" fill="#fff" textLength="115" lengthAdjust="spacingAndGlyphs">ACHTUNG / ATTENTION</text>
<g font-size="12.4" fill="#3a3a3a" stroke="#3a3a3a" stroke-width="0.2">
<text x="721.6" y="482.6" textLength="122.4" lengthAdjust="spacingAndGlyphs">Montiern Sie die HAWK</text>
<text x="721.6" y="496.2" textLength="112" lengthAdjust="spacingAndGlyphs">Scheinwerfer mit den</text>
<text x="721.6" y="509.8" textLength="134" lengthAdjust="spacingAndGlyphs">originalen Teilen und den</text>
<text x="721.6" y="523.4" textLength="147.4" lengthAdjust="spacingAndGlyphs">Unterlegscheiben (3), wie in</text>
<text x="721.6" y="537" textLength="118.4" lengthAdjust="spacingAndGlyphs">der Zeichnung gezeigt.</text>
<text x="721.6" y="556.6" textLength="150.4" lengthAdjust="spacingAndGlyphs">Attach the HAWK Lights with</text>
<text x="721.6" y="570.6" textLength="150.4" lengthAdjust="spacingAndGlyphs">the original parts and washers</text>
<text x="721.6" y="584.2" textLength="150.4" lengthAdjust="spacingAndGlyphs">(3), as shown in the drawing.</text>
</g>
</g>

</svg>
</body>
</html>
